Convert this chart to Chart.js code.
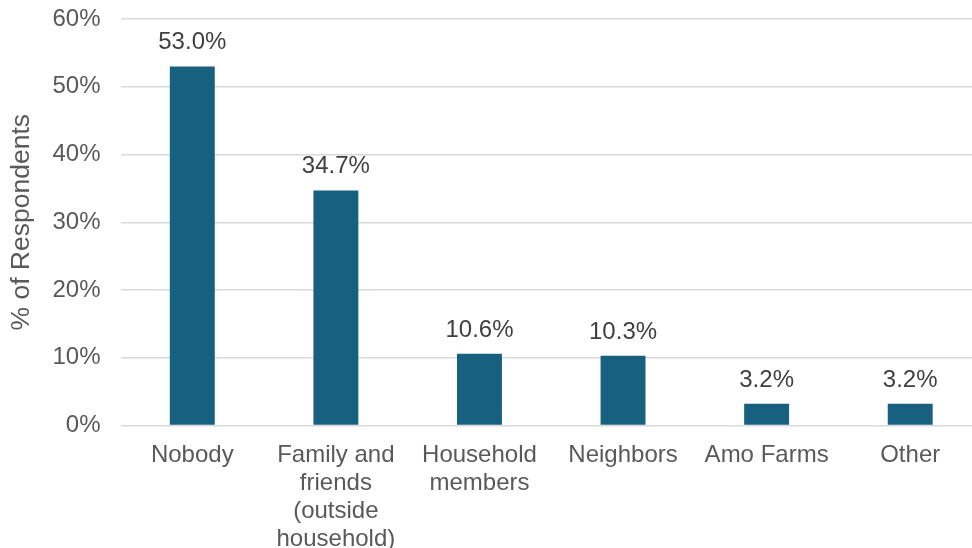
<!DOCTYPE html>
<html>
<head>
<meta charset="utf-8">
<script src="https://cdn.jsdelivr.net/npm/chart.js@4.4.1/dist/chart.umd.min.js"></script>
<style>
  html, body { margin: 0; padding: 0; background: #fff; overflow: hidden; }
  #wrap { position: relative; width: 972px; height: 548px; overflow: hidden; }
  #box { position: absolute; left: 0; top: 0; width: 992px; height: 548px; }
</style>
</head>
<body>
<div id="wrap"><div id="box"><canvas id="barChart"></canvas></div></div>
<script>
const categories = [
  'Nobody',
  ['Family and', 'friends', '(outside', 'household)'],
  ['Household', 'members'],
  'Neighbors',
  'Amo Farms',
  'Other'
];
const shares = [53.0, 34.7, 10.6, 10.3, 3.2, 3.2];
const yTicks = [0, 10, 20, 30, 40, 50, 60];

const font = 'Arial, "Liberation Sans", sans-serif';

// value labels above each bar
const barLabels = {
  id: 'barLabels',
  afterDatasetsDraw(chart) {
    const ctx = chart.ctx;
    const meta = chart.getDatasetMeta(0);
    ctx.save();
    ctx.font = '24px ' + font;
    ctx.fillStyle = '#404040';
    ctx.textAlign = 'center';
    ctx.textBaseline = 'alphabetic';
    meta.data.forEach((bar, i) => {
      ctx.fillText(shares[i].toFixed(1) + '%', bar.x, bar.y - 17);
    });
    ctx.restore();
  }
};

const dataBar = {
  labels: categories,
  datasets: [
    {
      label: '% of Respondents',
      backgroundColor: '#17607f',
      data: shares,
      barPercentage: 0.313,
      categoryPercentage: 1
    }
  ]
};

const configBar = {
  type: 'bar',
  data: dataBar,
  options: {
    responsive: true,
    maintainAspectRatio: false,
    animation: false,
    layout: { padding: { top: 19, right: 10, bottom: 0, left: 0 } },
    plugins: {
      legend: { display: false },
      tooltip: { enabled: false }
    },
    scales: {
      x: {
        grid: { display: false },
        border: { display: false },
        ticks: {
          color: '#595959',
          font: { family: font, size: 24, lineHeight: 1.17 },
          padding: 8,
          maxRotation: 0,
          autoSkip: false
        },
        afterFit(scale) { scale.height = 122.5; }
      },
      y: {
        min: 0,
        max: 60,
        afterBuildTicks(scale) { scale.ticks = yTicks.map(v => ({ value: v })); },
        grid: { color: '#d9d9d9', lineWidth: 1.5, drawTicks: false },
        border: { display: false },
        ticks: {
          color: '#595959',
          font: { family: font, size: 24 },
          padding: 20,
          callback: v => v + '%'
        },
        title: {
          display: true,
          text: '% of Respondents',
          color: '#595959',
          font: { family: font, size: 26.5, lineHeight: 1.2 },
          padding: { top: 6, bottom: 0 }
        },
        afterFit(scale) {
          scale.width = 120.5;
          scale.paddingTop = 0;
          scale.paddingBottom = 0;
        }
      }
    }
  },
  plugins: [barLabels]
};

const barChart = new Chart(document.getElementById('barChart'), configBar);
</script>
</body>
</html>
